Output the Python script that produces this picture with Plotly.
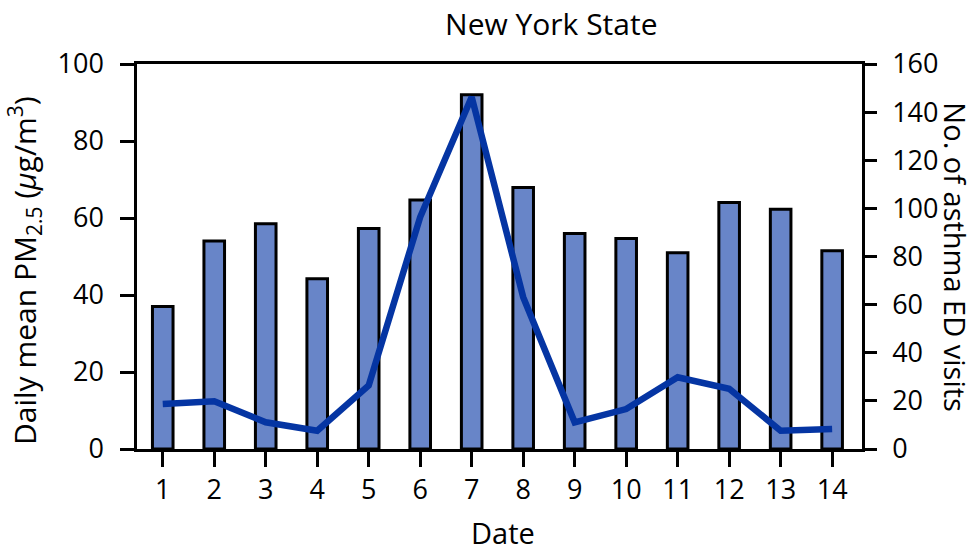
import plotly.graph_objects as go

# Daily values, New York State
dates = list(range(1, 15))
pm25 = [37.0, 54.0, 58.5, 44.2, 57.3, 64.7, 92.0, 67.9, 56.0, 54.7, 51.0, 64.0, 62.3, 51.5]
ed_visits = [18.7, 19.8, 11.1, 7.6, 26.4, 96.4, 146.3, 63.1, 11.1, 16.6, 29.8, 25.0, 7.6, 8.3]

left_ticks = [0, 20, 40, 60, 80, 100]
right_ticks = [0, 20, 40, 60, 80, 100, 120, 140, 160]

FONT = "Open Sans"
TICK_SIZE = 27
TITLE_SIZE = 30
BAR_COLOR = "#6885c8"
LINE_COLOR = "#0535a3"

fig = go.Figure()

fig.add_trace(go.Bar(
    x=dates, y=pm25, width=0.4,
    marker=dict(color=BAR_COLOR, line=dict(color="black", width=3)),
    yaxis="y", showlegend=False,
))

fig.add_trace(go.Scatter(
    x=dates, y=ed_visits, mode="lines",
    line=dict(color=LINE_COLOR, width=6.5),
    yaxis="y2", showlegend=False,
))

axis_common = dict(
    showline=True, linecolor="black", linewidth=2.5,
    ticks="outside", tickcolor="black", tickwidth=2.5,
    showgrid=False, zeroline=False,
    tickfont=dict(family=FONT, size=TICK_SIZE, color="black"),
)

title_font = dict(family=FONT, size=TITLE_SIZE, color="black")

fig.update_layout(
    width=974, height=551,
    margin=dict(l=137, r=112, t=64, b=102),
    paper_bgcolor="white", plot_bgcolor="white",
    font=dict(family=FONT, color="black"),
    title=dict(text="New York State", x=0.566, xanchor="center",
               y=0.955, yanchor="middle", font=title_font),
    xaxis=dict(
        range=[0.5, 14.58], tickvals=dates, ticklen=15,
        mirror=True, ticklabelstandoff=0,
        **axis_common,
    ),
    yaxis=dict(
        range=[0, 100], tickvals=left_ticks, ticklen=14,
        ticklabelstandoff=11,
        **axis_common,
    ),
    yaxis2=dict(
        range=[0, 160], tickvals=right_ticks, ticklen=12,
        overlaying="y", side="right", ticklabelstandoff=10,
        **axis_common,
    ),
    annotations=[
        dict(text="Date", xref="paper", yref="paper",
             x=0.505, y=-0.218, xanchor="center", yanchor="middle",
             showarrow=False, font=dict(family=FONT, size=29, color="black")),
        dict(text="Daily mean PM<sub>2.5</sub> (<i>μ</i>g/m<sup>3</sup>)",
             textangle=-90, xref="paper", yref="paper",
             x=-0.155, y=0.464, xanchor="center", yanchor="middle",
             showarrow=False, font=title_font),
        dict(text="No. of asthma ED visits",
             textangle=90, xref="paper", yref="paper",
             x=1.129, y=0.499, xanchor="center", yanchor="middle",
             showarrow=False, font=dict(family=FONT, size=29, color="black")),
    ],
)

fig.write_html("out.html")
